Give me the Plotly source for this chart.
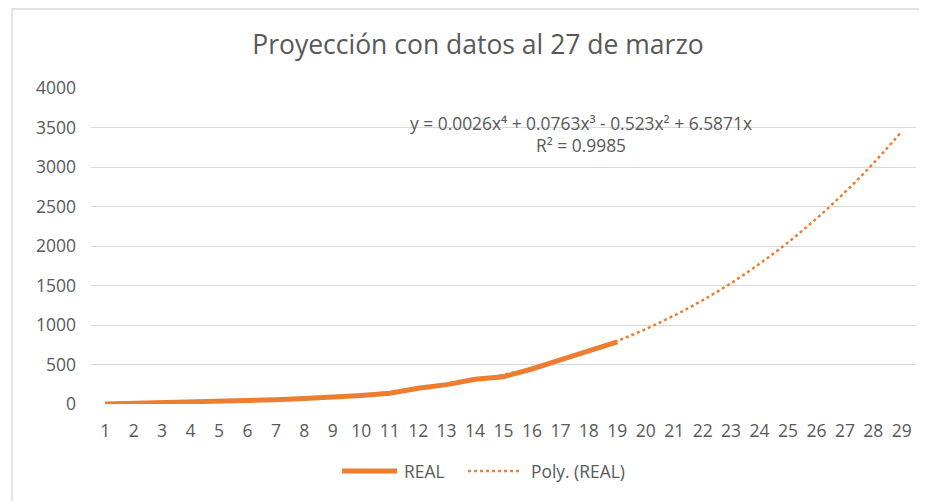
import plotly.graph_objects as go

days = list(range(1, 30))
real_days = list(range(1, 20))
real_values = [1, 8, 14, 27, 36, 43, 55, 69, 86, 109, 137, 200, 245, 313, 345, 443, 558, 674, 786]
# Polynomial trendline values (from the displayed equation) for days 1..29
trend_values = [6.1, 11.7, 17.3, 23.5, 31.0, 40.5, 52.9, 68.9, 89.6, 115.9, 148.8, 189.5, 239.1, 299.0,
                370.3, 454.4, 552.9, 667.0, 798.5, 948.9, 1120.0, 1313.3, 1530.8, 1774.2, 2045.6,
                2346.9, 2680.1, 3046.5, 3451.0]
y_ticks = [0, 500, 1000, 1500, 2000, 2500, 3000, 3500, 4000]

title_text = "Proyección con datos al 27 de marzo"
equation_text = "y = 0.0026x⁴ + 0.0763x³ - 0.523x² + 6.5871x"
r2_text = "R² = 0.9985"
legend_names = ["REAL", "Poly. (REAL)"]

ORANGE = "#ED7D31"
GREY_TXT = "#595959"
GRID = "#D9D9D9"
FONT = "Open Sans"

# the page body adds an 8px offset; figure drawn in the remaining window
OFF = 8
W, H = 927 - OFF, 501 - OFF
L, R, T, B = 83, 11, 80, 97
PW = W - L - R
PH = H - T - B


def px(x):
    """screen x -> paper x"""
    return (x - OFF - L) / PW


def py(y):
    """screen y -> paper y"""
    return (H - B - (y - OFF)) / PH


fig = go.Figure()
fig.add_trace(go.Scatter(
    x=days, y=trend_values, mode="lines", name=legend_names[1],
    line=dict(color=ORANGE, width=2.5, dash="dot", shape="spline"),
    showlegend=False,
))
fig.add_trace(go.Scatter(
    x=real_days, y=real_values, mode="lines", name=legend_names[0],
    line=dict(color=ORANGE, width=5),
    showlegend=False,
))

shapes = [
    dict(type="rect", xref="paper", yref="paper", x0=px(12), x1=px(940), y0=py(9), y1=py(520),
         line=dict(color=GRID, width=1.5), layer="below"),
    # legend samples
    dict(type="line", xref="paper", yref="paper", x0=px(342), x1=px(397), y0=py(471), y1=py(471),
         line=dict(color=ORANGE, width=5)),
    dict(type="line", xref="paper", yref="paper", x0=px(468), x1=px(521), y0=py(471), y1=py(471),
         line=dict(color=ORANGE, width=2.5, dash="dot")),
]

annotations = [
    dict(text=equation_text, xref="paper", yref="paper", x=px(581), y=py(123), showarrow=False,
         xanchor="center", yanchor="middle", font=dict(size=17.4, color=GREY_TXT)),
    dict(text=r2_text, xref="paper", yref="paper", x=px(581), y=py(145), showarrow=False,
         xanchor="center", yanchor="middle", font=dict(size=17.4, color=GREY_TXT)),
    dict(text=legend_names[0], xref="paper", yref="paper", x=px(402), y=py(471), showarrow=False,
         xanchor="left", yanchor="middle", font=dict(size=17.4, color=GREY_TXT)),
    dict(text=legend_names[1], xref="paper", yref="paper", x=px(529), y=py(471), showarrow=False,
         xanchor="left", yanchor="middle", font=dict(size=17.4, color=GREY_TXT)),
]

fig.update_layout(
    width=W, height=H,
    margin=dict(l=L, r=R, t=T, b=B, autoexpand=False),
    paper_bgcolor="white", plot_bgcolor="white",
    font=dict(family=FONT, color=GREY_TXT, size=17),
    title=dict(text=title_text, x=(478 - OFF) / W, xanchor="center", y=1 - (45 - OFF) / H,
               yanchor="middle", font=dict(size=26.5, color=GREY_TXT, family=FONT)),
    xaxis=dict(range=[0.5, 29.5], tickmode="array", tickvals=days, ticktext=[str(d) for d in days],
               showgrid=False, zeroline=False, showline=False, ticks="", ticklabelstandoff=14,
               tickfont=dict(size=17.5, color=GREY_TXT)),
    yaxis=dict(range=[0, 4000], tickmode="array", tickvals=y_ticks, showgrid=True, gridcolor=GRID,
               gridwidth=1.3, zeroline=False, showline=False, ticks="", ticklabelstandoff=14,
               tickfont=dict(size=17.5, color=GREY_TXT)),
    showlegend=False,
    shapes=shapes,
    annotations=annotations,
)

fig.write_html("out.html")
